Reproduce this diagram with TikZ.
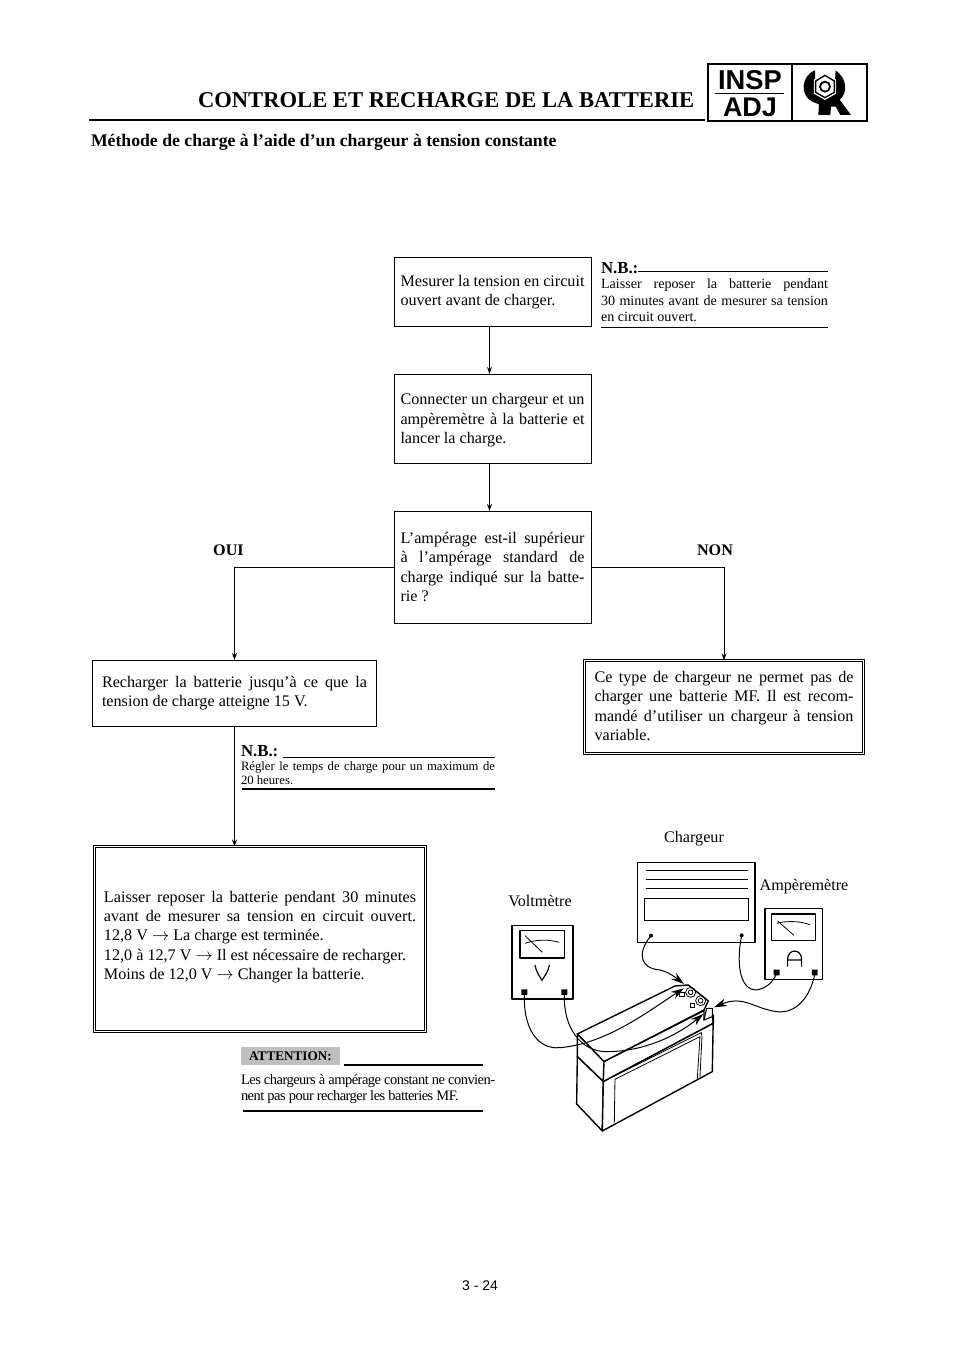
\documentclass[tikz,border=0pt]{standalone}
\usepackage{fontspec}
\setmainfont{Liberation Serif}
\newfontfamily\headsans{Liberation Sans}
\newfontfamily\tightserif[LetterSpace=-3.5]{Liberation Serif}
\usetikzlibrary{arrows.meta,calc}
\newcommand{\bodyfont}{\fontsize{16.15bp}{19.4bp}\selectfont}
\newcommand{\noteA}{\fontsize{14.1bp}{16.5bp}\selectfont}
\newcommand{\noteB}{\fontsize{12.7bp}{14bp}\selectfont}
\newcommand{\attfont}{\tightserif\fontsize{14.45bp}{16.8bp}\selectfont}
\newcommand{\J}[1]{\makebox[\linewidth][s]{#1}\\}
\newcommand{\boxtext}[3]{\begin{minipage}{#1bp}\parindent=0pt\bodyfont #3\par\vspace{#2bp}\end{minipage}}
\newcommand{\notetext}[3]{\begin{minipage}{#1bp}\parindent=0pt #2 #3\par\end{minipage}}
\tikzset{
  x=1bp,y=-1bp,
  every node/.style={inner sep=0pt,outer sep=0pt},
  flowbox/.style={draw,line width=1bp,rectangle,fill=white},
  dblbox/.style={draw,double,double distance=1.6bp,line width=.9bp,rectangle,fill=white},
  flow/.style={line width=1bp,-{Stealth[length=7bp,width=5bp]}},
  rulel/.style={line width=1.1bp},
  lab/.style={font=\bodyfont,anchor=center},
  wire/.style={line width=1bp},
  wirea/.style={line width=1bp,-{Stealth[length=13bp,width=8bp]}},
  art/.style={line width=1.1bp,line join=round},
  artb/.style={line width=1.4bp,line join=round},
}
\begin{document}
\begin{tikzpicture}
\useasboundingbox (0,0) rectangle (960,1358);
\fill[white] (0,0) rectangle (960,1358);

% header
\node[anchor=base west,font=\bfseries\fontsize{22.6bp}{24bp}\selectfont] (title) at (198,107.5) {CONTROLE ET RECHARGE DE LA BATTERIE};
\draw[line width=2bp] (89,120.5) -- (705,120.5);
\node[anchor=base west,font=\bfseries\fontsize{17.7bp}{20bp}\selectfont] (sub) at (91,147) {Méthode de charge à l’aide d’un chargeur à tension constante};
\draw[line width=2bp] (708,64) rectangle (867,121);
\draw[line width=1.6bp] (792,64) -- (792,121);
\node[font=\headsans\bfseries\fontsize{27.3bp}{27bp}\selectfont] (insp) at (750,80.5) {INSP};
\draw[line width=.9bp] (715,93) -- (784,93);
\node[font=\headsans\bfseries\fontsize{27bp}{27bp}\selectfont] (adj) at (750,107.5) {ADJ};
\begin{scope}[shift={(795,65)},x=.3333bp,y=-.3333bp]
\fill[black] (60,16) .. controls (18,32) and (14,92) .. (52,110) -- (72,118) -- (70,150) -- (106,150) -- (108,125) -- (122,125) -- (136,150) -- (168,150) -- (134,104) .. controls (158,85) and (158,42) .. (122,16) -- (120,45) -- (60,45) -- cycle;
\fill[white] (66,10) -- (116,10) -- (116,30) -- (66,30) -- cycle;
\draw[white,line width=1pt,fill=white] (90,26) -- (122,45) -- (122,85) -- (90,103) -- (58,85) -- (58,45) -- cycle;
\draw[black,line width=1.4bp,fill=white] (90,31) -- (118,48) -- (118,82) -- (90,98) -- (62,82) -- (62,48) -- cycle;
\draw[black,line width=1.8bp,fill=white] (90,65) circle (15);
\end{scope}

% flowchart boxes
\node[flowbox,minimum width=197bp,minimum height=68bp] (b1) at (492.5,292) {\boxtext{184}{0}{\J{Mesurer la tension en circuit}ouvert avant de charger.}};
\node[flowbox,minimum width=197bp,minimum height=89bp] (b2) at (492.5,418.5) {\boxtext{184}{-4}{\J{Connecter un chargeur et un}\J{ampèremètre à la batterie et}lancer la charge.}};
\node[flowbox,minimum width=197bp,minimum height=112bp] (b3) at (492.5,567) {\boxtext{184}{0}{\J{L’ampérage est-il supérieur}\J{à l’ampérage standard de}\J{charge indiqué sur la batte-}rie ?}};
\node[flowbox,minimum width=283bp,minimum height=66bp] (b4) at (234.5,693) {\boxtext{265}{0}{\J{Recharger la batterie jusqu’à ce que la}tension de charge atteigne 15 V.}};
\node[dblbox,minimum width=279bp,minimum height=93bp] (b5) at (724,707) {\boxtext{259}{2}{\J{Ce type de chargeur ne permet pas de}\J{charger une batterie MF. Il est recom-}\J{mandé d’utiliser un chargeur à tension}variable.}};
\node[dblbox,minimum width=331bp,minimum height=185bp] (b6) at (260,939) {\boxtext{312}{4}{\J{Laisser reposer la batterie pendant 30 minutes}\J{avant de mesurer sa tension en circuit ouvert.}12,8 V $\rightarrow$ La charge est terminée.\\12,0 à 12,7 V $\rightarrow$ Il est nécessaire de recharger.\\Moins de 12,0 V $\rightarrow$ Changer la batterie.}};

\draw[flow] ([xshift=-3bp]b1.south) -- ([xshift=-3bp]b2.north);
\draw[flow] ([xshift=-3bp]b2.south) -- ([xshift=-3bp]b3.north);
\draw[flow] (b3.west) -| (b4.north);
\draw[flow] (b3.east) -| (b5.north);
\draw[flow] (b4.south) -- (b4.south |- b6.north);

\node[font=\bfseries\bodyfont] (oui) at (228.5,550.5) {OUI};
\node[font=\bfseries\bodyfont] (non) at (715,550.5) {NON};

% notes
\node[anchor=base west,font=\bfseries\fontsize{16.8bp}{18bp}\selectfont] (nb1) at (601,273) {N.B.:};
\draw[rulel] (638,271.5) -- (828,271.5);
\node[anchor=north west] (nb1t) at (601,279) {\notetext{227}{\noteA}{\J{Laisser reposer la batterie pendant}\J{30 minutes avant de mesurer sa tension}en circuit ouvert.}};
\draw[rulel] (601,327.5) -- (828,327.5);

\node[anchor=base west,font=\bfseries\fontsize{16.8bp}{18bp}\selectfont] (nb2) at (241,756) {N.B.:};
\draw[rulel] (283,757.5) -- (495,757.5);
\node[anchor=north west] (nb2t) at (241,762) {\notetext{254}{\noteB}{\J{Régler le temps de charge pour un maximum de}20 heures.}};
\draw[rulel] (242,789) -- (495,789);

\fill[black!25] (241,1047) rectangle (340,1065);
\node[font=\bfseries\fontsize{13.2bp}{14bp}\selectfont] (att) at (290.5,1056) {ATTENTION:};
\draw[rulel] (344,1065) -- (483,1065);
\node[anchor=north west] (attt) at (241,1074) {\notetext{256}{\attfont}{Les chargeurs à ampérage constant ne convien-\\nent pas pour recharger les batteries MF.}};
\draw[rulel] (243,1111) -- (483,1111);

% illustration labels
\node[lab] (chg) at (694,838.5) {Chargeur};
\node[lab] (amp) at (804,887) {Ampèremètre};
\node[lab] (vol) at (540,901) {Voltmètre};

% illustration
\begin{scope}[shift={(480,820)},x=.3333bp,y=-.3333bp]
% charger
\draw[art] (472,128) rectangle (825,368);
\draw[line width=.7bp] (497,152) -- (803,152) (497,178) -- (803,178) (497,204) -- (803,204);
\draw[line width=.7bp] (494,235) rectangle (805,302);
\fill (513,347) circle (6) (785,346) circle (6);
% ammeter
\draw[art] (855,266) rectangle (1027,478);
\draw[art] (875,282) rectangle (1006,362);
\draw[line width=.8bp] (893,303) -- (942,346) (890,310) .. controls (920,302) and (960,303) .. (990,314);
\draw[line width=1.2bp] (923,440) -- (923,418) .. controls (923,385) and (965,385) .. (965,418) -- (965,440) (923,420) -- (965,420);
\fill (881,449) rectangle (899,466) (996,449) rectangle (1013,466);
% voltmeter
\draw[art] (96,317) rectangle (279,537);
\draw[art] (120,332) rectangle (253,414);
\draw[line width=.8bp] (135,347) -- (187,397) (135,370) .. controls (170,358) and (205,358) .. (238,367);
\draw[line width=1.2bp] (165,435) .. controls (170,460) and (180,470) .. (186,481) .. controls (192,470) and (203,460) .. (208,435);
\fill (124,508) rectangle (142,525) (244,508) rectangle (262,525);
% battery
\draw[artb,fill=white] (292,642) -- (585,498) -- (625,495) -- (685,543) -- (672,570) -- (372,725) -- cycle;
\draw[artb,fill=white] (292,642) -- (372,725) -- (370,785) -- (292,710) -- cycle;
\draw[artb,fill=white] (372,725) -- (672,572) -- (672,600) -- (697,585) -- (700,610) -- (370,785) -- cycle;
\draw[artb,fill=white] (292,710) -- (370,785) -- (367,933) -- (290,852) -- cycle;
\draw[artb,fill=white] (370,785) -- (700,610) -- (700,585) -- (697,755) -- (367,933) -- cycle;
\draw[art,fill=white] (680,565) -- (697,565) -- (697,590) -- (672,600) -- cycle;
\draw[line width=.8bp] (405,778) -- (403,908) (405,778) -- (660,650) -- (652,776) (399,770) -- (664,638) -- (666,650) -- (660,772);
\draw[line width=.8bp] (632,517) circle (15) (632,517) circle (7) (662,542) circle (15) (662,542) circle (7);
\draw[line width=.9bp] (599,517) rectangle (612,530) (631,549) rectangle (644,562);
% wires
\draw[wirea] (133,525) .. controls (130,620) and (170,690) .. (240,683) .. controls (380,672) and (510,570) .. (612,505);
\draw[wirea] (253,525) .. controls (250,620) and (300,695) .. (380,695) .. controls (500,695) and (600,640) .. (670,582);
\draw[wirea] (513,347) .. controls (470,400) and (480,445) .. (540,450) .. controls (565,455) and (590,475) .. (612,492);
\draw[wire] (785,346) .. controls (770,420) and (775,510) .. (830,510) .. controls (860,505) and (880,485) .. (890,460);
\draw[wirea] (1004,465) .. controls (990,530) and (950,582) .. (890,575) .. controls (820,565) and (790,525) .. (702,562);
\end{scope}

\node[font=\headsans\fontsize{14bp}{15bp}\selectfont] (page) at (480,1286) {3 - 24};
\end{tikzpicture}
\end{document}
